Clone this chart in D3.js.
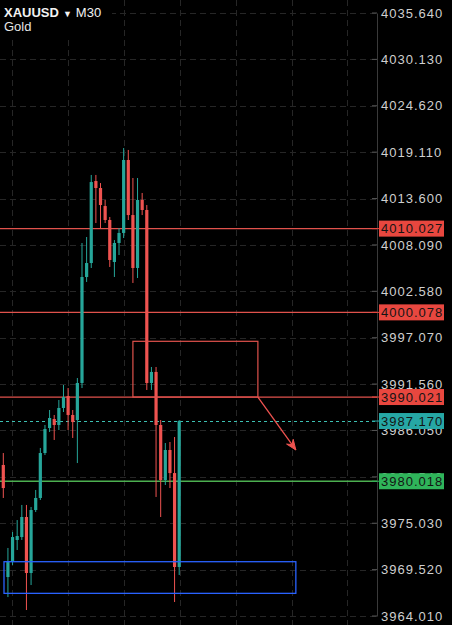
<!DOCTYPE html>
<html><head><meta charset="utf-8">
<script src="https://cdn.jsdelivr.net/npm/d3@7"></script>
<style>html,body{margin:0;padding:0;background:#000;overflow:hidden}svg{display:block}</style>
</head><body>
<script>
// ---- data (XAUUSD M30) ----
const opens  = [3981.95,3968.64,3970.42,3973.04,3973.39,3975.77,3969.12,3976.60,3978.03,3983.37,3986.34,3987.41,3986.70,3988.72,3990.14,3987.89,3987.29,3991.69,4004.28,4005.94,4015.68,4014.85,4012.71,4011.05,4006.06,4008.32,4009.51,4018.18,4011.64,4005.35,4013.43,4012.24,3991.69,3993.00,3986.70,3980.16,3983.73,3980.99,3969.83];
const highs  = [3983.37,3972.09,3973.99,3975.41,3977.20,3977.20,3976.96,3978.98,3983.97,3986.70,3988.48,3987.89,3989.67,3991.45,3991.09,3988.48,3992.28,4008.32,4009.03,4016.40,4016.40,4015.44,4013.43,4011.41,4008.67,4010.10,4019.60,4019.37,4016.04,4016.04,4014.26,4012.83,3993.59,3993.59,3987.29,3984.56,3984.68,3985.27,3987.29];
const lows   = [3978.03,3966.26,3970.07,3971.85,3973.04,3964.72,3967.69,3976.36,3977.79,3983.13,3985.87,3984.92,3986.10,3988.24,3986.10,3985.16,3982.18,3991.09,4003.69,4005.35,4010.69,4010.10,4010.69,4005.47,4004.28,4006.89,4008.91,4011.05,4003.57,4004.16,4011.64,3990.86,3990.86,3978.15,3975.77,3979.57,3979.21,3965.67,3968.88];
const closes = [3979.21,3970.42,3973.39,3973.51,3975.77,3969.12,3976.60,3978.03,3983.37,3986.22,3987.53,3986.70,3988.72,3990.02,3987.89,3987.05,3991.69,4004.28,4005.94,4015.56,4014.85,4012.83,4011.05,4006.30,4008.32,4009.51,4018.18,4011.64,4005.35,4013.43,4012.24,3991.69,3993.00,3986.70,3980.16,3983.73,3980.99,3969.83,3987.17];
const tickValues = [4035.640,4030.130,4024.620,4019.110,4013.600,4008.090,4002.580,3997.070,3991.560,3986.050,3980.540,3975.030,3969.520,3964.010];
const redLevels = [4010.027,4000.078,3990.021];
const greenLevel = 3980.018;
const lastPrice = 3987.170;
const gridBars = [1.88,13.98,26.08,38.18,50.28,62.38,74.2];
// drawings (bar index / price)
const redBox = {x0:28.0, x1:55.0, top:3996.64, bottom:3990.021};
const arrow = {x0:55.0, y0:3990.021, x1:63.2, y1:3983.73};
const blueBox = {x0:0.15, x1:63.2, top:3970.46, bottom:3966.70};

const W=452,H=625, axisX=377;
const svg=d3.select("body").append("svg").attr("width",W).attr("height",H);
svg.append("rect").attr("width",W).attr("height",H).attr("fill","#000");

const y=d3.scaleLinear().domain([3964.01,4035.64]).range([616,13]);
const x=d3.scaleLinear().domain([0,38]).range([3.3,179.2]);

const UP="#26a69a", DN="#ef5350";

// grid
const g=svg.append("g");
g.selectAll(".hg").data(tickValues).join("line")
 .attr("x1",0).attr("x2",axisX).attr("y1",d=>Math.round(y(d))+0.5).attr("y2",d=>Math.round(y(d))+0.5)
 .attr("stroke","#262626").attr("stroke-dasharray","6,4");
g.selectAll(".vg").data(gridBars).join("line")
 .attr("y1",0).attr("y2",H).attr("x1",d=>Math.round(x(d))+0.5).attr("x2",d=>Math.round(x(d))+0.5)
 .attr("stroke","#262626").attr("stroke-dasharray","6,4");

// title background
svg.append("rect").attr("x",0).attr("y",0).attr("width",112).attr("height",36).attr("fill","#000");

// horizontal level lines
svg.selectAll(".rl").data(redLevels).join("line")
 .attr("x1",0).attr("x2",axisX).attr("y1",d=>y(d)).attr("y2",d=>y(d))
 .attr("stroke","#e0524c").attr("stroke-width",1.3);
svg.append("line").attr("x1",0).attr("x2",axisX).attr("y1",y(greenLevel)).attr("y2",y(greenLevel))
 .attr("stroke","#4caf50").attr("stroke-width",1.3);
svg.append("line").attr("x1",0).attr("x2",axisX).attr("y1",Math.round(y(lastPrice))+0.5).attr("y2",Math.round(y(lastPrice))+0.5)
 .attr("stroke","#3cc0b2").attr("stroke-width",1.2).attr("stroke-dasharray","3,3");

// candles
const idx=d3.range(opens.length);
const c=svg.append("g");
c.selectAll(".wick").data(idx).join("line")
 .attr("x1",i=>x(i)).attr("x2",i=>x(i)).attr("y1",i=>y(highs[i])).attr("y2",i=>y(lows[i]))
 .attr("stroke",i=>closes[i]>=opens[i]?UP:DN).attr("stroke-width",1);
c.selectAll(".body").data(idx).join("rect")
 .attr("x",i=>x(i)-1.6).attr("width",3.2)
 .attr("y",i=>y(Math.max(opens[i],closes[i])))
 .attr("height",i=>Math.max(1,Math.abs(y(opens[i])-y(closes[i]))))
 .attr("fill",i=>closes[i]>=opens[i]?UP:DN);

// drawings
svg.append("rect").attr("x",x(redBox.x0)).attr("y",y(redBox.top))
 .attr("width",x(redBox.x1)-x(redBox.x0)).attr("height",y(redBox.bottom)-y(redBox.top))
 .attr("fill","none").attr("stroke","#e0524c").attr("stroke-width",1.2);
svg.append("rect").attr("x",x(blueBox.x0)).attr("y",y(blueBox.top))
 .attr("width",x(blueBox.x1)-x(blueBox.x0)).attr("height",y(blueBox.bottom)-y(blueBox.top))
 .attr("fill","none").attr("stroke","#2962ff").attr("stroke-width",1.3);
const ax0=x(arrow.x0), ay0=y(arrow.y0), ax1=x(arrow.x1), ay1=y(arrow.y1);
svg.append("line").attr("x1",ax0).attr("y1",ay0).attr("x2",ax1).attr("y2",ay1)
 .attr("stroke","#ef5350").attr("stroke-width",1.3);
const ang=Math.atan2(ay1-ay0,ax1-ax0), L=11, sp=0.38;
svg.append("path").attr("d",`M${ax1-L*Math.cos(ang-sp)},${ay1-L*Math.sin(ang-sp)} L${ax1},${ay1} L${ax1-L*Math.cos(ang+sp)},${ay1-L*Math.sin(ang+sp)} L${ax1-L*0.6*Math.cos(ang)},${ay1-L*0.6*Math.sin(ang)} Z`)
 .attr("fill","#ef5350").attr("stroke","#ef5350").attr("stroke-width",1);

// right axis
svg.append("rect").attr("x",axisX).attr("y",0).attr("width",W-axisX).attr("height",H).attr("fill","#000");
const axis=d3.axisRight(y).tickValues(tickValues).tickFormat(d3.format(".3f")).tickSize(0).tickPadding(4);
const ag=svg.append("g").attr("transform",`translate(${axisX},0)`).call(axis);
ag.select(".domain").attr("stroke","#3a3a3a");
ag.selectAll("text").attr("fill","#cfcfcf").attr("font-family","Liberation Sans, Arial, sans-serif")
 .attr("font-size",13).attr("letter-spacing","1px");
svg.selectAll(".tk").data(tickValues).join("line")
 .attr("x1",axisX-5).attr("x2",axisX).attr("y1",d=>y(d)).attr("y2",d=>y(d)).attr("stroke","#555");

// price labels
const labels=[
 {v:redLevels[0],bg:"#e8473f"},{v:redLevels[1],bg:"#e8473f"},{v:redLevels[2],bg:"#e8473f"},
 {v:lastPrice,bg:"#26a7a5"},{v:greenLevel,bg:"#2fb45a"}];
const lg=svg.selectAll(".lab").data(labels).join("g").attr("transform",d=>`translate(0,${y(d.v)})`);
lg.append("line").attr("x1",axisX-5).attr("x2",axisX+2).attr("stroke",d=>d.bg);
lg.append("rect").attr("x",379).attr("y",-8).attr("width",65).attr("height",16).attr("fill",d=>d.bg);
lg.append("text").attr("x",381).attr("y",4.5).text(d=>d3.format(".3f")(d.v))
 .attr("fill","#141414").attr("font-family","Liberation Sans, Arial, sans-serif")
 .attr("font-size",13).attr("letter-spacing","1px");

// title
const t=svg.append("text").attr("x",4).attr("y",17).attr("font-family","Liberation Sans, Arial, sans-serif")
 .attr("font-size",13).attr("fill","#f2f2f2");
t.append("tspan").attr("font-weight","bold").text("XAUUSD");
t.append("tspan").attr("font-size",9).attr("dx",4).text("▼");
t.append("tspan").attr("dx",4).text("M30");
svg.append("text").attr("x",4).attr("y",31).attr("font-family","Liberation Sans, Arial, sans-serif")
 .attr("font-size",13).attr("fill","#e6e6e6").text("Gold");
</script>
</body></html>
